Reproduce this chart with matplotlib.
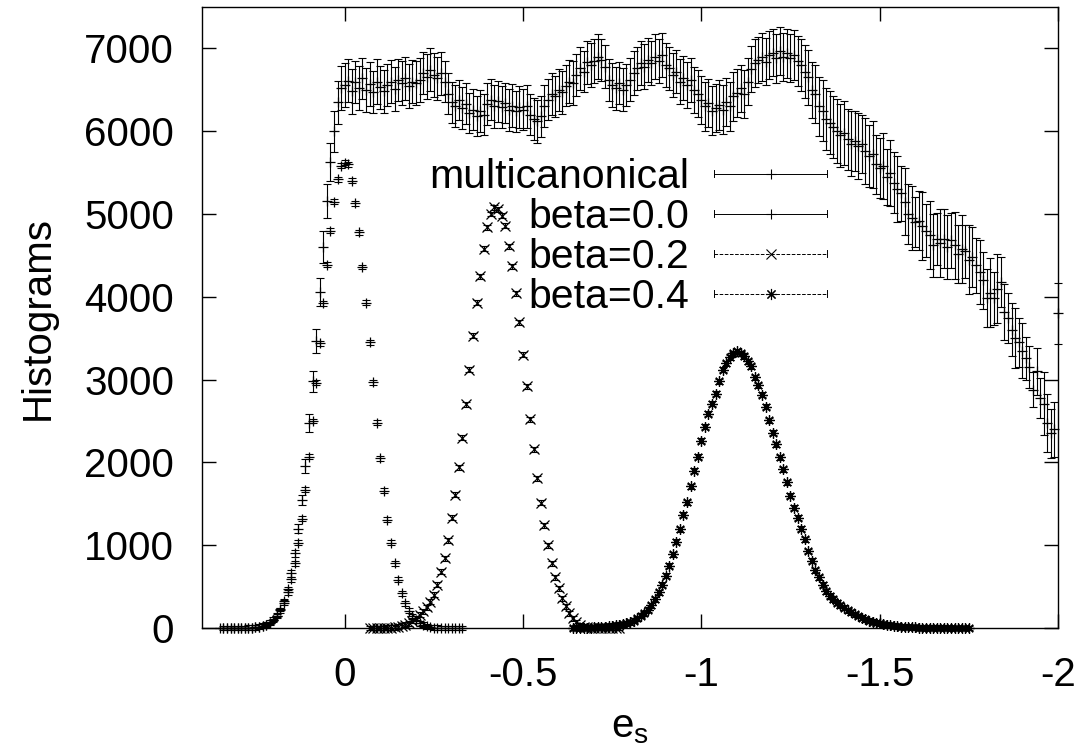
import numpy as np
import matplotlib
matplotlib.use('Agg')
import matplotlib.pyplot as plt
from matplotlib.lines import Line2D
from matplotlib.legend_handler import HandlerBase
from matplotlib.ticker import FormatStrFormatter, MultipleLocator

# ---- data (e_s bins of 0.01) ----
mc_x = np.round(np.arange(0.35, -2.005, -0.01), 2)
mc_y = [0, 0, 0, 0, 0, 0, 0, 0,
        2, 4, 7, 12, 22, 38, 60, 95, 150, 225, 330, 470, 660, 900, 1200,
        1550, 1960, 2480, 2980, 3470, 4060, 4600, 5160, 5630, 6000, 6350, 6520,
        6560, 6610, 6480, 6590, 6520, 6640, 6500, 6570, 6470, 6600,
        6530, 6480, 6560, 6600, 6510, 6620, 6580, 6640, 6550, 6600,
        6580, 6620, 6700, 6660, 6740, 6680, 6640, 6700, 6600, 6450,
        6350, 6300, 6380, 6280, 6330, 6220, 6260, 6180, 6240, 6200,
        6330, 6380, 6300, 6360, 6290, 6340, 6260, 6310, 6240, 6290,
        6260, 6300, 6200, 6150, 6120, 6180, 6300, 6380, 6450, 6420,
        6500, 6470, 6550, 6600, 6580, 6680, 6760, 6720, 6830, 6800,
        6850, 6900, 6860, 6780, 6620, 6560, 6520, 6580, 6500, 6560,
        6620, 6700, 6760, 6820, 6780, 6860, 6820, 6900, 6850, 6920,
        6800, 6760, 6680, 6720, 6600, 6640, 6560, 6620, 6500, 6450,
        6380, 6300, 6340, 6250, 6280, 6320, 6260, 6350, 6300, 6420,
        6460, 6520, 6450, 6600, 6750, 6820, 6860, 6900, 6840, 6920,
        6950, 6880, 6970, 6900, 6940, 6880, 6920, 6850, 6800, 6720,
        6650, 6500, 6450, 6300, 6250, 6150, 6100, 6050, 6000, 5950,
        5980, 5900, 5850, 5880, 5820, 5850, 5760, 5700, 5720, 5600,
        5550, 5580, 5450, 5500, 5380, 5300, 5250, 5150, 5000, 4950,
        4900, 4920, 4850, 4800, 4750, 4620, 4700, 4650, 4700, 4600,
        4680, 4620, 4520, 4580, 4550, 4450, 4480, 4380, 4300, 4200,
        3980, 4050, 3980, 4100, 4180, 3820, 3740, 3600, 3500, 3450,
        3350, 3260, 3150, 2880, 3100, 2780, 2710, 2480, 2350, 2400, 3800]
mc_err = [0, 0, 0, 0, 0, 0, 0, 0,
          1, 2, 3, 4, 6, 8, 10, 13, 17, 20, 25, 30, 38, 45, 55,
          62, 84, 107, 127, 145, 170, 190, 205, 230, 250, 258, 262,
          262, 258, 270, 255, 266, 250, 268, 262, 256, 270,
          258, 265, 250, 262, 270, 255, 264, 258, 266, 260,
          262, 268, 255, 270, 260, 265, 258, 262, 250, 248,
          245, 252, 240, 256, 248, 244, 250, 242, 255, 246,
          252, 248, 258, 250, 255, 246, 252, 258, 248, 254,
          250, 256, 248, 252, 258, 250, 254, 248, 256, 250,
          255, 262, 250, 258, 264, 256, 262, 250, 258, 264,
          262, 268, 258, 264, 256, 262, 258, 254, 262, 256,
          260, 266, 258, 264, 270, 262, 266, 272, 264, 270,
          268, 262, 270, 264, 272, 268, 276, 270, 280, 284,
          290, 296, 288, 300, 294, 302, 298, 292, 300, 296,
          290, 284, 292, 286, 280, 288, 282, 290, 286, 292,
          288, 294, 286, 292, 296, 290, 298, 304, 312, 320,
          330, 340, 352, 360, 368, 372, 380, 376, 384, 380,
          386, 370, 392, 360, 396, 350, 398, 372, 400, 356,
          362, 396, 340, 398, 366, 400, 330, 402, 360, 384,
          300, 352, 410, 324, 412, 376, 314, 408, 356, 390,
          330, 408, 350, 410, 318, 412, 360, 334, 392, 346,
          350, 414, 322, 416, 300, 338, 300, 320, 360, 300,
          330, 260, 250, 210, 280, 240, 380, 350, 300, 330, 370]

b00_x = np.round(np.arange(0.34, -0.335, -0.01), 2)
b00_y = [0, 0, 0, 0, 0, 0, 0, 2, 5, 10,
         16, 26, 42, 66, 100, 150, 215, 305, 430, 590,
         780, 1030, 1320, 1670, 2070, 2500, 2960, 3440, 3920, 4390,
         4800, 5150, 5420, 5580, 5620,
         5600, 5400, 5130, 4780, 4360, 3930, 3450, 2970, 2480, 2050,
         1660, 1310, 1030, 780, 580, 420, 300, 210, 140, 95,
         60, 38, 22, 12, 6, 3, 0, 0, 0, 0, 0, 0, 0]

b02_x = np.round(np.arange(-0.07, -0.775, -0.01), 2)
b02_y = [0, 0, 0, 0, 0,
         2, 4, 8, 14, 25, 40, 60, 85, 120, 160,
         200, 250, 320, 400, 520, 680, 840, 1060, 1330, 1610,
         1940, 2300, 2700, 3120, 3530, 3930, 4250, 4580, 4840, 5000,
         5080, 5060, 4980, 4860, 4610, 4370, 4040, 3690, 3300, 2920,
         2520, 2160, 1810, 1510, 1240, 1000, 780, 615, 480, 360,
         265, 180, 120, 70, 35, 18, 8, 4, 2,
         0, 0, 0, 0, 0, 0, 0]

b04_x = np.round(np.arange(-0.64, -1.755, -0.01), 2)
b04_y = [0, 0, 1, 2, 3, 5, 7, 10, 14, 18,
         24, 30, 36, 40, 45, 55, 68, 88, 120, 150,
         180, 220, 275, 345, 430, 520, 630, 750, 890, 1040,
         1190, 1370, 1520, 1710, 1900, 2070, 2260, 2430, 2590, 2710,
         2830, 2980, 3120, 3200, 3270, 3320, 3340, 3320, 3280, 3220,
         3160, 3030, 2930, 2820, 2670, 2510, 2360, 2220, 2060, 1920,
         1760, 1600, 1450, 1330, 1200, 1070, 930, 810, 700, 610,
         520, 445, 390, 350, 305, 275, 245, 215, 190, 165,
         145, 125, 105, 90, 75, 65, 55, 47, 40, 33,
         27, 22, 18, 15, 12, 10, 8, 6, 5, 4,
         3, 2, 2, 1, 1, 0, 0, 0, 0, 0, 0, 0]

beta_err = 30

labels = ['multicanonical', 'beta=0.0', 'beta=0.2', 'beta=0.4']

plt.rcParams['font.family'] = ['Liberation Sans', 'DejaVu Sans']
plt.rcParams['font.size'] = 29
plt.rcParams['mathtext.fontset'] = 'custom'
plt.rcParams['mathtext.rm'] = 'Liberation Sans'
plt.rcParams['axes.unicode_minus'] = False

asterisk = (8, 2, 0)


class GnuplotKey(HandlerBase):
    # gnuplot style key sample: line with end ticks and a point in the middle
    def create_artists(self, legend, orig, xdescent, ydescent, width, height, fontsize, trans):
        y = (height - ydescent) / 2.0
        x0, x1 = -xdescent, -xdescent + width
        line = Line2D([x0, x1], [y, y], color='k', lw=0.7, ls=orig.get_linestyle(), transform=trans)
        caps = Line2D([x0, x0, np.nan, x1, x1], [y - 2.5, y + 2.5, np.nan, y - 2.5, y + 2.5],
                      color='k', lw=0.7, transform=trans)
        mark = Line2D([(x0 + x1) / 2], [y], ls='none', marker=orig.get_marker(),
                      ms=orig.get_markersize(), mew=0.8, color='k', transform=trans)
        return [line, caps, mark]


fig = plt.figure(figsize=(10.78, 7.52), dpi=100)
ax = fig.add_axes([0.18738, 0.16489, 0.79406, 0.82580])

series = [
    (mc_x, mc_y, mc_err, '+', 6.5),
    (b00_x, b00_y, beta_err, '+', 6.5),
    (b02_x, b02_y, beta_err, 'x', 6.5),
    (b04_x, b04_y, beta_err, asterisk, 7.5),
]
for x, y, err, mk, ms in series:
    eb = ax.errorbar(x, y, yerr=err, fmt='none', ecolor='k', elinewidth=0.8,
                     capsize=3.2, capthick=0.8)
    pts, = ax.plot(x, y, ls='none', marker=mk, ms=ms, mew=0.9, color='k')
    for art in eb.get_children() + [pts]:
        art.set_clip_on(False)

ax.set_xlim(0.4, -2.0)
ax.set_ylim(0, 7500)
ax.xaxis.set_major_locator(MultipleLocator(0.5))
ax.xaxis.set_major_formatter(FormatStrFormatter('%g'))
ax.yaxis.set_major_locator(MultipleLocator(1000))
ax.tick_params(direction='in', length=10, width=1, top=True, right=True, pad=20)
for sp in ax.spines.values():
    sp.set_linewidth(1)

ax.set_ylabel('Histograms', labelpad=20)
ax.set_xlabel(r'e$_{\mathrm{s}}$', labelpad=10)

proxies = [Line2D([], [], ls='-', marker='+', ms=7),
           Line2D([], [], ls='-', marker='+', ms=7),
           Line2D([], [], ls=(0, (6, 4)), marker='x', ms=7),
           Line2D([], [], ls=(0, (2, 3)), marker=asterisk, ms=8)]
ax.legend(proxies, labels, handler_map={Line2D: GnuplotKey()}, loc='upper right',
          bbox_to_anchor=(0.730, 0.757), frameon=False, markerfirst=False,
          handlelength=2.75, handletextpad=0.6, labelspacing=0.05,
          borderpad=0, borderaxespad=0, fontsize=29.5)

fig.savefig('out.png', dpi=100)
